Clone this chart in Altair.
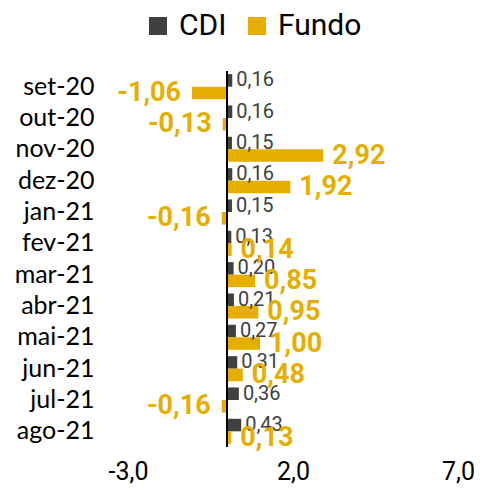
import altair as alt
import pandas as pd

months = ["set-20", "out-20", "nov-20", "dez-20", "jan-21", "fev-21",
          "mar-21", "abr-21", "mai-21", "jun-21", "jul-21", "ago-21"]
cdi = [0.16, 0.16, 0.15, 0.16, 0.15, 0.13, 0.20, 0.21, 0.27, 0.31, 0.36, 0.43]
fundo = [-1.06, -0.13, 2.92, 1.92, -0.16, 0.14, 0.85, 0.95, 1.00, 0.48, -0.16, 0.13]
series = ["CDI", "Fundo"]
colors = ["#404040", "#E6AF00"]
x_ticks = [-3, 2, 7]

rows = []
for m, c, f in zip(months, cdi, fundo):
    rows.append({"mes": m, "serie": "CDI", "valor": c})
    rows.append({"mes": m, "serie": "Fundo", "valor": f})
df = pd.DataFrame(rows)

base = alt.Chart(df).transform_calculate(
    lbl="replace(replace(format(datum.valor, '.2f'), '.', ','), '\u2212', '-')"
)

y = alt.Y("mes:N", sort=months, title=None,
          scale=alt.Scale(paddingInner=0.2, paddingOuter=0.1),
          axis=alt.Axis(domain=False, ticks=False, labelFont="Lato",
                        labelFontSize=25, labelColor="#000000", labelPadding=34))
yoff = alt.YOffset("serie:N", sort=series, scale=alt.Scale(domain=series))
x = alt.X("valor:Q", title=None,
          scale=alt.Scale(domain=[-3, 7], nice=False),
          axis=alt.Axis(values=x_ticks, grid=False, domain=False, ticks=False,
                        labelFlush=False,
                        labelExpr="replace(replace(format(datum.value, '.1f'), '.', ','), '\u2212', '-')",
                        labelFont="Roboto", labelFontSize=25, labelColor="#000000",
                        labelPadding=12))
color = alt.Color("serie:N", sort=series,
                  scale=alt.Scale(domain=series, range=colors),
                  legend=alt.Legend(orient="none", legendX=15, legendY=-60,
                                    title=None, direction="horizontal",
                                    symbolType="square", symbolSize=324,
                                    symbolStrokeWidth=0, labelFont="Roboto",
                                    labelFontSize=30, labelColor="#000000",
                                    columnPadding=15, labelOffset=6))

bars = base.mark_bar().encode(x=x, y=y, yOffset=yoff, color=color)

rule = base.mark_rule(color="black", strokeWidth=1.5).encode(x=alt.datum(0))

cdi_text = base.transform_filter("datum.serie == 'CDI'").mark_text(
    align="left", baseline="middle", dx=4, font="Roboto", fontSize=20, color="#404040"
).encode(x=x, y=y, yOffset=yoff, text="lbl:N")

pos_text = base.transform_filter("datum.serie == 'Fundo' && datum.valor >= 0").mark_text(
    align="left", baseline="middle", dx=9, font="Roboto", fontWeight="bold",
    fontSize=27, color="#E6AF00"
).encode(x=x, y=y, yOffset=yoff, text="lbl:N")

neg_text = base.transform_filter("datum.serie == 'Fundo' && datum.valor < 0").mark_text(
    align="right", baseline="middle", dx=-11, font="Roboto", fontWeight="bold",
    fontSize=27, color="#E6AF00"
).encode(x=x, y=y, yOffset=yoff, text="lbl:N")

chart = alt.layer(bars, rule, cdi_text, pos_text, neg_text).properties(
    width=467, height=476, background="white",
    autosize=alt.AutoSizeParams(type="fit", contains="padding"),
    padding={"top": 62, "left": 6, "right": 0, "bottom": 0}
).configure_view(stroke=None)

chart.save("out.html", embed_options={"renderer": "svg", "actions": False})
